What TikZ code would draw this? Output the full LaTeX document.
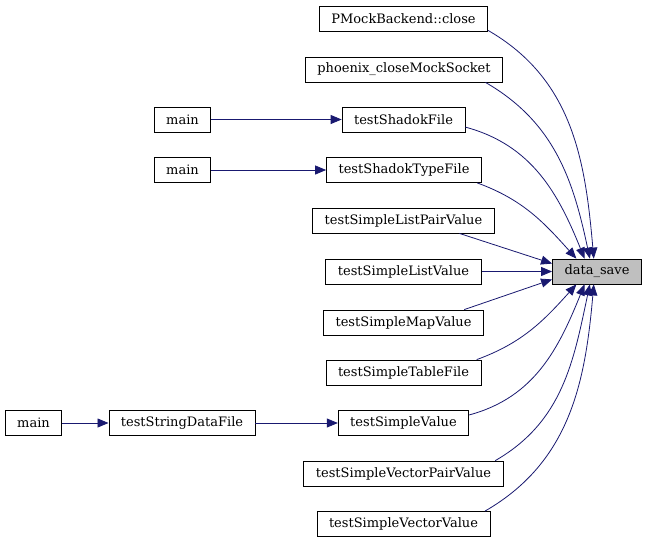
\documentclass[tikz,border=0pt]{standalone}
\usepackage{fontspec}
\setmainfont{DejaVu Serif}
\usetikzlibrary{arrows.meta}
\definecolor{edgeblue}{RGB}{25,25,112}
\definecolor{focusgray}{RGB}{191,191,191}
\begin{document}
\begin{tikzpicture}[
    x=1pt, y=-1pt,
    func/.style={rectangle, draw, text centered, minimum height=25pt, inner xsep=12pt, font=\fontsize{13}{15}\selectfont, line width=0.8pt},
    focus/.style={func, fill=focusgray},
    arrow/.style={-{Triangle[length=11pt,width=9pt]}, color=edgeblue, line width=0.8pt}
]
    \useasboundingbox (0,0) rectangle (648,544);

    % Called function
    \node[focus] (data_save) at (597,271.5) {data\_save};

    % Direct callers
    \node[func] (pmock_close) at (403.5,18.5) {PMockBackend::close};
    \node[func] (phoenix_close) at (404,69.5) {phoenix\_closeMockSocket};
    \node[func] (shadok_file) at (403.5,119.5) {testShadokFile};
    \node[func] (shadok_type_file) at (404,170) {testShadokTypeFile};
    \node[func] (list_pair) at (403.5,220.5) {testSimpleListPairValue};
    \node[func] (list_value) at (403.5,271.5) {testSimpleListValue};
    \node[func] (map_value) at (403.5,322.5) {testSimpleMapValue};
    \node[func] (table_file) at (403.5,372.5) {testSimpleTableFile};
    \node[func] (simple_value) at (403.5,423) {testSimpleValue};
    \node[func] (vector_pair) at (403.5,473.5) {testSimpleVectorPairValue};
    \node[func] (vector_value) at (403.5,524) {testSimpleVectorValue};

    % Indirect callers
    \node[func] (main_a) at (182.5,119.5) {main};
    \node[func] (main_b) at (182.5,170) {main};
    \node[func] (string_data_file) at (182,423) {testStringDataFile};
    \node[func] (main_c) at (33.5,423) {main};

    % Connections
    \draw[arrow] (pmock_close.-8.7) to[out=-30,in=95] (data_save.104);
    \draw[arrow] (phoenix_close.-9) to[out=-30,in=102] (data_save.119);
    \draw[arrow] (shadok_file.-7.7) to[out=-15,in=112] (data_save.134);
    \draw[arrow] (shadok_type_file.-10.4) to[out=-20,in=132] (data_save.148);
    \draw[arrow] (list_pair.-13.6) -- (data_save.170);
    \draw[arrow] (list_value) -- (data_save);
    \draw[arrow] (map_value.12.6) -- (data_save.190);
    \draw[arrow] (table_file.10.4) to[out=20,in=-132] (data_save.212);
    \draw[arrow] (simple_value.7.8) to[out=15,in=-112] (data_save.226);
    \draw[arrow] (vector_pair.8.9) to[out=30,in=-102] (data_save.241);
    \draw[arrow] (vector_value.9) to[out=30,in=-95] (data_save.256);
    \draw[arrow] (main_a) -- (shadok_file);
    \draw[arrow] (main_b) -- (shadok_type_file);
    \draw[arrow] (main_c) -- (string_data_file);
    \draw[arrow] (string_data_file) -- (simple_value);
\end{tikzpicture}
\end{document}
